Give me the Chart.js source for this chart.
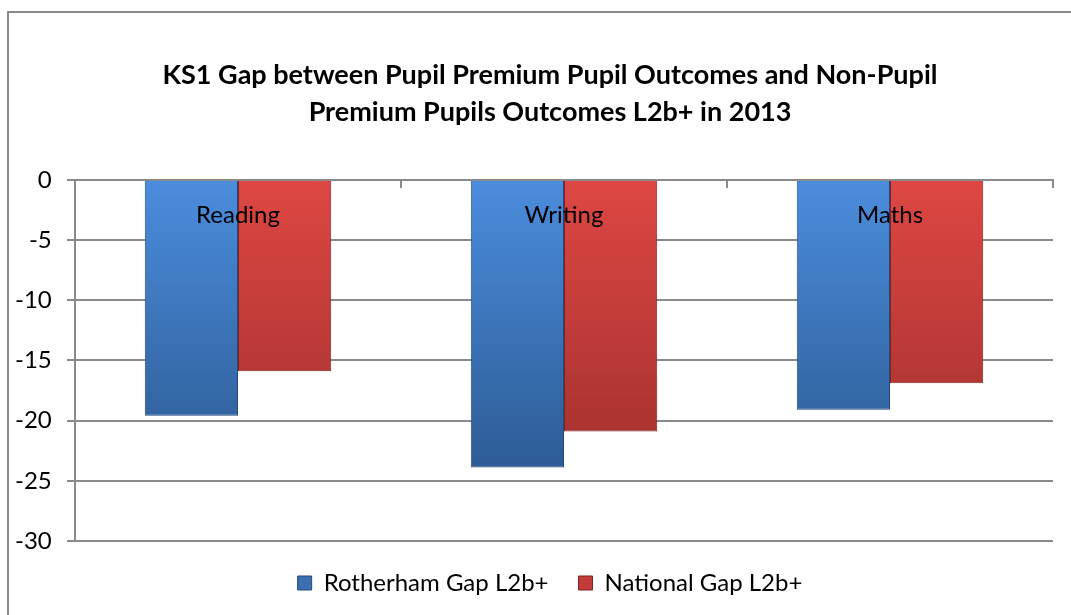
<!DOCTYPE html>
<html>
<head>
<meta charset="utf-8">
<script src="https://cdn.jsdelivr.net/npm/chart.js@4.4.1/dist/chart.umd.min.js"></script>
<style>
  html, body { margin: 0; padding: 0; background: #fff; overflow: hidden; }
  #frame {
    position: absolute; left: 7px; top: 11px; width: 1100px; height: 640px;
    border-left: 2px solid #8a8a8a; border-top: 2px solid #8a8a8a;
  }
  #wrap { position: absolute; left: 0; top: 0; width: 1071px; height: 615px; }
</style>
</head>
<body>
<div id="frame"></div>
<div id="wrap"><canvas id="gapChart"></canvas></div>
<script>
const categories = ['Reading', 'Writing', 'Maths'];
const rotherhamGap = [-19.6, -23.9, -19.1];
const nationalGap = [-15.9, -20.9, -16.9];
const seriesNames = ['Rotherham Gap L2b+', 'National Gap L2b+'];
const titleLines = ['KS1 Gap between Pupil Premium Pupil Outcomes and Non-Pupil', 'Premium Pupils Outcomes L2b+ in 2013'];

const FONT = 'Lato, "Open Sans", sans-serif';

function barFill(top, bottom) {
    return (c) => {
        const area = c.chart.chartArea;
        if (!area) return bottom;
        const g = c.chart.ctx.createLinearGradient(0, area.top, 0, area.top + 290);
        g.addColorStop(0, top);
        g.addColorStop(1, bottom);
        return g;
    };
}

document.addEventListener('DOMContentLoaded', () => {
    const ctx = document.getElementById('gapChart');

    new Chart(ctx, {
        type: 'bar',
        data: {
            labels: categories,
            datasets: [{
                label: seriesNames[0],
                data: rotherhamGap,
                backgroundColor: barFill('#4b8ddd', '#2d5b94'),
                borderColor: '#24497a',
                borderWidth: 1,
                legendColor: '#3b6fb0'
            }, {
                label: seriesNames[1],
                data: nationalGap,
                backgroundColor: barFill('#de4743', '#a2302d'),
                borderColor: '#7d2321',
                borderWidth: 1,
                legendColor: '#c23b38'
            }]
        },
        options: {
            responsive: true,
            maintainAspectRatio: false,
            animation: false,
            categoryPercentage: 0.572,
            barPercentage: 1,
            // left padding keeps title/legend centred like the original; y labels hang into it
            layout: { padding: { left: 47, right: 18, top: 57, bottom: 10 } },
            plugins: {
                title: {
                    display: true,
                    text: titleLines,
                    color: '#000',
                    font: { family: FONT, size: 27, weight: 'bold', lineHeight: 1.37 },
                    padding: { top: 0, bottom: 49 }
                },
                legend: {
                    position: 'bottom',
                    labels: {
                        color: '#000',
                        font: { family: FONT, size: 24 },
                        boxWidth: 14,
                        boxHeight: 14,
                        padding: 30,
                        generateLabels: (chart) => chart.data.datasets.map((ds, i) => ({
                            text: ds.label,
                            fillStyle: ds.legendColor,
                            strokeStyle: ds.borderColor,
                            lineWidth: 1,
                            fontColor: '#000',
                            datasetIndex: i
                        }))
                    }
                },
                tooltip: { enabled: false }
            },
            scales: {
                x: {
                    position: { y: 0 },
                    grid: { drawOnChartArea: false, drawTicks: true, tickLength: 7, color: '#8a8a8a', lineWidth: 2 },
                    border: { display: true, color: '#8a8a8a', width: 2 },
                    ticks: { z: 1, color: '#000', font: { family: FONT, size: 24 }, padding: 14 }
                },
                y: {
                    min: -30,
                    max: 0,
                    afterFit: (s) => { s.width = 28; },
                    // mirrored + negative padding so the labels sit left of the axis without clipping
                    ticks: { stepSize: 5, color: '#000', font: { family: FONT, size: 24 }, mirror: true, crossAlign: 'far', padding: -60 },
                    grid: { color: '#8a8a8a', lineWidth: 2, tickLength: 8 },
                    border: { color: '#8a8a8a', width: 2 }
                }
            }
        }
    });
});
</script>
</body>
</html>
